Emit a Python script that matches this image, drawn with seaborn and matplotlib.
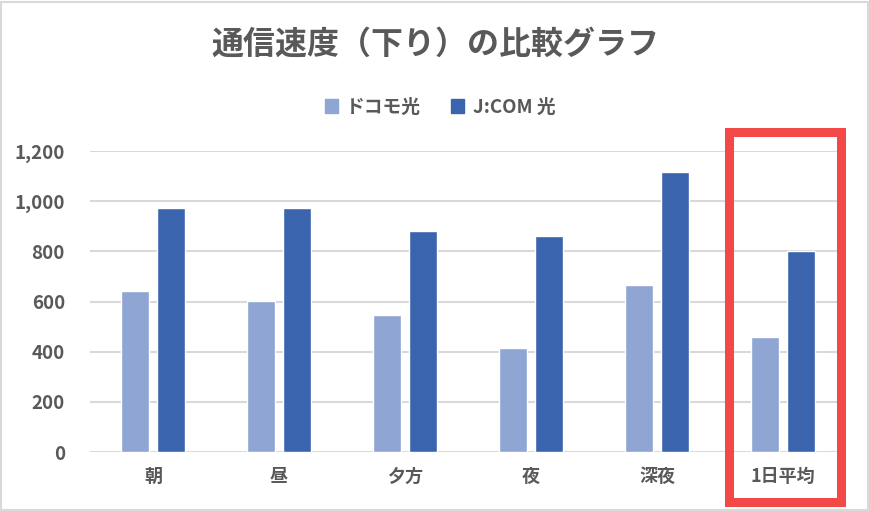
import matplotlib
matplotlib.use("Agg")
import matplotlib.pyplot as plt
import matplotlib.patches as patches
import seaborn as sns
import pandas as pd

# values
categories = ['朝', '昼', '夕方', '夜', '深夜', '1日平均']
docomo = [642, 602, 546, 415, 666, 459]
jcom = [973, 973, 881, 861, 1116, 801]
series_names = ['ドコモ光', 'J:COM 光']
yticks = [0, 200, 400, 600, 800, 1000, 1200]

data = pd.DataFrame({
    'cat': categories * 2,
    'val': docomo + jcom,
    'series': [series_names[0]] * len(categories) + [series_names[1]] * len(categories),
})

sns.set_theme(style='white')
plt.rcParams['font.family'] = ['Noto Sans CJK JP', 'DejaVu Sans']
text_col = '#595959'
grid_col = '#d9d9d9'

W, H = 870, 511
fig = plt.figure(figsize=(W / 100, H / 100), dpi=100)
ax = fig.add_axes([90 / W, 1 - 452 / H, (846 - 90) / W, (452 - 151) / H])

sns.barplot(data=data, x='cat', y='val', hue='series', order=categories,
            palette=['#8fa5d4', '#3a64ad'], width=0.571, gap=0.222,
            saturation=1, ax=ax, legend=False)

ax.set_ylim(0, 1200)
ax.set_xlim(-0.5, len(categories) - 0.5)
ax.set_yticks(yticks)
ax.set_yticklabels([f'{v:,}' for v in yticks])
ax.set_xlabel('')
ax.set_ylabel('')
ax.grid(axis='y', color=grid_col, linewidth=1.5)
ax.set_axisbelow(True)
for s in ax.spines.values():
    s.set_visible(False)
ax.tick_params(axis='both', length=0, colors=text_col)
ax.tick_params(axis='y', pad=18)
ax.tick_params(axis='x', pad=11)
for lab in ax.get_yticklabels():
    lab.set_fontsize(13.5)
    lab.set_fontweight('bold')
for lab in ax.get_xticklabels():
    lab.set_fontsize(13)
    lab.set_fontweight('bold')

fig.text(435 / W, 1 - 45 / H, '通信速度（下り）の比較グラフ', ha='center', va='center',
         fontsize=23, fontweight='bold', color=text_col)

# legend
handles = [patches.Patch(color=c) for c in ['#8fa5d4', '#3a64ad']]
leg = fig.legend(handles, series_names, loc='center', bbox_to_anchor=(440 / W, 1 - 107 / H),
                 ncol=2, frameon=False, handlelength=0.7, handleheight=0.7,
                 handletextpad=0.45, columnspacing=1.6,
                 prop={'size': 13.5, 'weight': 'bold'})
for t in leg.get_texts():
    t.set_color(text_col)

# red highlight box around the daily average
fig.add_artist(patches.Rectangle((729.5 / W, 1 - 501.5 / H), (841.5 - 729.5) / W, (501.5 - 131.5) / H,
                                 transform=fig.transFigure, fill=False,
                                 edgecolor='#f24848', linewidth=6.5))

# chart border
fig.add_artist(patches.Rectangle((1 / W, 1 / H), (867 / W), (508 / H), transform=fig.transFigure,
                                 fill=False, edgecolor=grid_col, linewidth=1.5))

fig.savefig('out.png', dpi=100)
